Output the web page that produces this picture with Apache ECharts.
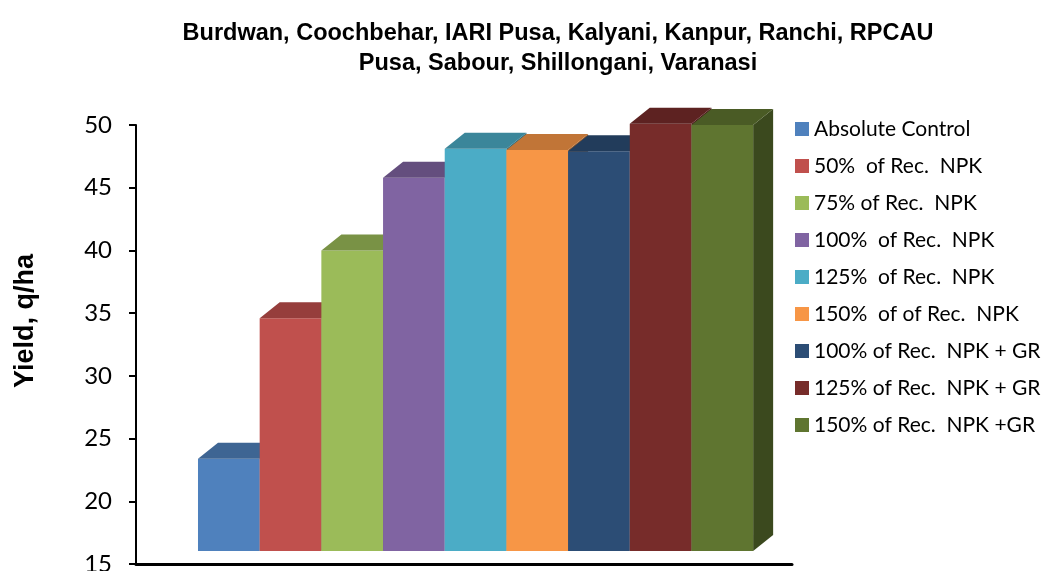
<!DOCTYPE html>
<html>
<head>
<meta charset="utf-8">
<script src="https://cdn.jsdelivr.net/npm/echarts@6/dist/echarts.min.js"></script>
<style>
  html, body { margin: 0; padding: 0; background: #fff; }
  #chart { width: 1044px; height: 571px; }
</style>
</head>
<body>
<div id="chart"></div>
<script>
const titleText = "Burdwan, Coochbehar, IARI Pusa, Kalyani, Kanpur, Ranchi, RPCAU\nPusa, Sabour, Shillongani, Varanasi";
const treatments = [
  "Absolute Control",
  "50%  of Rec.  NPK",
  "75% of Rec.  NPK",
  "100%  of Rec.  NPK",
  "125%  of Rec.  NPK",
  "150%  of of Rec.  NPK",
  "100% of Rec.  NPK + GR",
  "125% of Rec.  NPK + GR",
  "150% of Rec.  NPK +GR"
];
const yields = [23.4, 34.6, 40.0, 45.8, 48.1, 48.0, 47.9, 50.1, 50.0];
const yMin = 15, yMax = 50, yStep = 5;

const colors = ["#4F81BD", "#C0504D", "#9BBB59", "#8064A2", "#4BACC6",
                "#F79646", "#2C4D75", "#772C2A", "#5F7530"];

// 3d look: depth offset of the box and lift of the floor, in px
const depthX = 20, depthY = 16, floorLift = 13;

function shade(hex, f) {
  const n = parseInt(hex.slice(1), 16);
  const r = Math.round(((n >> 16) & 255) * f);
  const g = Math.round(((n >> 8) & 255) * f);
  const b = Math.round((n & 255) * f);
  return "rgb(" + r + "," + g + "," + b + ")";
}

const chart = echarts.init(document.getElementById("chart"));

const option = {
  animation: false,
  title: {
    text: titleText,
    left: 553,
    top: 14,
    textAlign: "center",
    textStyle: {
      fontFamily: "Liberation Sans",
      fontWeight: "bold",
      fontSize: 23.5,
      lineHeight: 30,
      color: "#000"
    }
  },
  legend: {
    orient: "vertical",
    left: 795,
    top: 116,
    padding: 0,
    itemWidth: 14,
    itemHeight: 14,
    itemGap: 11,
    icon: "rect",
    data: treatments,
    textStyle: {
      fontFamily: "Lato",
      fontSize: 21,
      lineHeight: 26,
      color: "#000"
    }
  },
  grid: { left: 136, right: 252, top: 125, bottom: 7, outerBoundsMode: "none", containLabel: false },
  xAxis: {
    type: "value",
    min: -1.005,
    max: 9.63,
    axisLine: { show: true, onZero: false, lineStyle: { color: "#000", width: 3 } },
    axisTick: { show: false },
    axisLabel: { show: false },
    splitLine: { show: false }
  },
  yAxis: {
    type: "value",
    min: yMin,
    max: yMax,
    interval: yStep,
    axisLine: { show: true, onZero: false, lineStyle: { color: "#000", width: 2 } },
    axisTick: { show: true, length: 7, lineStyle: { color: "#000", width: 2 } },
    axisLabel: { color: "#000", fontFamily: "Lato", fontSize: 24, margin: 24 },
    splitLine: { show: false }
  },
  graphic: [{
    type: "text",
    x: 26,
    y: 321,
    rotation: Math.PI / 2,
    style: {
      text: "Yield, q/ha",
      fontFamily: "Liberation Sans",
      fontWeight: "bold",
      fontSize: 27,
      fill: "#000",
      align: "center",
      verticalAlign: "middle"
    }
  }],
  series: treatments.map((name, i) => ({
    name: name,
    type: "custom",
    color: colors[i],
    encode: { x: 0, y: 1 },
    data: [[i, yields[i]]],
    renderItem: (params, api) => {
      const idx = api.value(0);
      const tl = api.coord([idx, api.value(1)]);
      const tr = api.coord([idx + 1, api.value(1)]);
      const base = api.coord([idx, yMin])[1] - floorLift;
      const c = colors[i];
      return {
        type: "group",
        children: [
          {
            type: "polygon",
            shape: { points: [[tr[0], tr[1]], [tr[0] + depthX, tr[1] - depthY],
                              [tr[0] + depthX, base - depthY], [tr[0], base]] },
            style: { fill: shade(c, 0.62) }
          },
          {
            type: "rect",
            shape: { x: tl[0], y: tl[1], width: tr[0] - tl[0], height: base - tl[1] },
            style: { fill: c }
          },
          {
            type: "polygon",
            shape: { points: [[tl[0], tl[1]], [tl[0] + depthX, tl[1] - depthY],
                              [tr[0] + depthX, tr[1] - depthY], [tr[0], tr[1]]] },
            style: { fill: shade(c, 0.78) }
          }
        ]
      };
    }
  }))
};

chart.setOption(option);
</script>
</body>
</html>
